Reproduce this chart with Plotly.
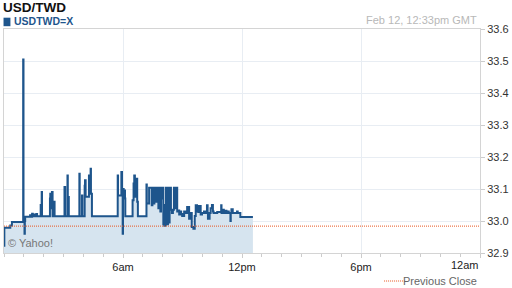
import plotly.graph_objects as go
import pandas as pd

DAY = "2016-02-12"
times = ["00:00", "00:01", "00:19", "00:24", "00:58", "00:59", "01:02", "01:03", "01:04", "01:19",
         "01:20", "01:25", "01:27", "01:31", "01:33", "01:38", "01:40", "01:51", "01:52", "01:54",
         "01:55", "02:19", "02:20", "02:22", "02:25", "02:27", "02:31", "02:33", "03:03", "03:05",
         "03:12", "03:13", "03:16", "03:48", "03:49", "03:56", "03:57", "04:04", "04:05", "04:07",
         "04:10", "04:17", "04:19", "04:22", "04:23", "04:26", "05:44", "05:45", "05:50", "05:55",
         "05:57", "05:59", "06:00", "06:02", "06:04", "06:06", "06:07", "06:29", "06:32", "06:34",
         "06:36", "06:39", "06:42", "06:43", "06:45", "07:11", "07:12", "07:19", "07:27", "07:29",
         "07:33", "07:35", "07:37", "07:41", "07:43", "07:47", "07:49", "07:53", "07:55", "07:58",
         "08:00", "08:02", "08:04", "08:05", "08:07", "08:08", "08:10", "08:12", "08:14", "08:16",
         "08:20", "08:21", "08:25", "08:28", "08:31", "08:34", "08:38", "08:39", "08:44", "08:47",
         "08:50", "08:53", "08:56", "08:59", "09:05", "09:08", "09:14", "09:20", "09:25", "09:28",
         "09:33", "09:37", "09:40", "09:44", "09:48", "09:50", "09:55", "09:59", "10:05", "10:09",
         "10:14", "10:16", "10:17", "10:22", "10:25", "10:29", "10:32", "10:34", "10:45", "10:57",
         "10:58", "11:02", "11:05", "11:10", "11:13", "11:17", "11:20", "11:25", "11:26", "11:28",
         "11:32", "11:35", "11:45", "11:47", "11:55", "12:33"]
values = [32.923, 32.979, 32.986, 32.997, 33.505, 32.997, 32.960, 33.000, 33.013, 33.018,
          33.013, 33.023, 33.015, 33.020, 33.015, 33.022, 33.015, 33.050, 33.015, 33.091,
          33.015, 33.070, 33.085, 33.040, 33.091, 33.015, 33.060, 33.015, 33.106, 33.015,
          33.142, 33.075, 33.015, 33.148, 33.015, 33.080, 33.015, 33.110, 33.127, 33.076,
          33.076, 33.142, 33.100, 33.163, 33.085, 33.015, 33.142, 33.080, 33.080, 33.153,
          33.100, 32.960, 33.100, 33.090, 33.095, 33.070, 33.015, 33.065, 33.117, 33.142,
          33.076, 33.076, 33.132, 33.060, 33.015, 33.114, 33.055, 33.104, 33.049, 33.104,
          33.055, 33.090, 33.104, 33.060, 33.104, 33.040, 33.104, 33.030, 33.104, 33.070,
          33.104, 32.990, 33.050, 32.985, 33.020, 32.988, 33.104, 33.050, 32.990, 33.104,
          32.995, 33.104, 33.035, 33.025, 33.035, 33.104, 33.040, 33.104, 33.030, 33.033,
          33.020, 33.030, 33.022, 33.016, 33.030, 33.025, 33.044, 33.007, 33.025, 32.981,
          32.976, 33.016, 33.049, 33.030, 33.028, 33.047, 33.020, 33.025, 33.030, 33.025,
          33.049, 33.025, 33.007, 33.025, 33.040, 33.050, 33.030, 33.025, 33.028, 33.049,
          33.025, 33.035, 33.025, 33.032, 33.025, 33.030, 33.025, 33.000, 33.025, 33.037,
          33.025, 33.025, 33.030, 33.025, 33.0125, 33.0125]
prev_close = 32.984
y_ticks = [32.9, 33.0, 33.1, 33.2, 33.3, 33.4, 33.5, 33.6]
x_tick_times = ["2016-02-12 06:00", "2016-02-12 12:00", "2016-02-12 18:00", "2016-02-13 00:00"]
x_tick_labels = ["6am", "12pm", "6pm", "12am"]
x_start, x_end = "2016-02-12 00:00", "2016-02-13 00:00"

FONT = "Arial, Liberation Sans, sans-serif"
LINE = "#1e558c"
FILL = "#d6e4ef"
ORANGE = "#e8561f"
GRID = "#e8edf3"

ts = pd.to_datetime([DAY + " " + t for t in times])

fig = go.Figure()
fig.add_trace(go.Scatter(x=ts, y=values, mode="lines", line=dict(color=LINE, width=2, shape="hv"),
                         fill="tozeroy", fillcolor=FILL, hoverinfo="skip", showlegend=False))
fig.add_trace(go.Scatter(x=[x_start, x_end], y=[prev_close, prev_close], mode="lines",
                         line=dict(color=ORANGE, width=1, dash="1px,1px"), showlegend=False))

# the last tick label sits inside the plot edge, so it is drawn as a right-anchored annotation
tick_text_on_axis = x_tick_labels[:-1] + [""]

fig.update_layout(
    width=512, height=288, margin=dict(l=3, r=28, t=29, b=35),
    paper_bgcolor="white", plot_bgcolor="white",
    font=dict(family=FONT, size=11, color="#333"),
    xaxis=dict(type="date", range=[x_start, x_end], tickvals=x_tick_times, ticktext=tick_text_on_axis,
               showgrid=True, gridcolor=GRID, gridwidth=1, showline=True, linecolor="#d4d4d4",
               mirror=True, ticks="outside", ticklen=4, tickcolor="#cccccc",
               minor=dict(dtick=3600000, ticks="outside", ticklen=3, tickcolor="#cccccc", showgrid=False),
               tickfont=dict(size=11, color="#222"), zeroline=False),
    yaxis=dict(range=[32.9, 33.6], tickvals=y_ticks, tickformat=".1f", side="right",
               showgrid=True, gridcolor=GRID, gridwidth=1, showline=True, linecolor="#d4d4d4",
               mirror=True, ticks="outside", ticklen=4, tickcolor="#cccccc",
               tickfont=dict(size=11, color="#333"), zeroline=False),
)

fig.add_annotation(text=x_tick_labels[-1], xref="paper", yref="paper", x=1, y=0, xshift=1, yshift=-12,
                   xanchor="right", yanchor="middle", showarrow=False,
                   font=dict(family=FONT, size=11, color="#222"))
fig.add_annotation(text="<b>USD/TWD</b>", xref="paper", yref="paper", x=0, y=1, xshift=-3, yshift=22,
                   xanchor="left", yanchor="middle", showarrow=False,
                   font=dict(family=FONT, size=13.5, color="#111"))
fig.add_shape(type="rect", xref="paper", yref="paper", x0=-0.001, x1=0.0135, y0=1.0125, y1=1.0505,
              fillcolor=LINE, line=dict(width=0))
fig.add_annotation(text="<b>USDTWD=X</b>", xref="paper", yref="paper", x=0, y=1, xshift=8, yshift=8.5,
                   xanchor="left", yanchor="middle", showarrow=False,
                   font=dict(family=FONT, size=10.5, color=LINE))
fig.add_annotation(text="Feb 12, 12:33pm GMT", xref="paper", yref="paper", x=1, y=1, xshift=-1, yshift=9,
                   xanchor="right", yanchor="middle", showarrow=False,
                   font=dict(family=FONT, size=11, color="#b8b8b8"))
fig.add_annotation(text="© Yahoo!", xref="paper", yref="paper", x=0, y=0, xshift=2, yshift=10,
                   xanchor="left", yanchor="middle", showarrow=False,
                   font=dict(family=FONT, size=11, color="#777"))
fig.add_annotation(text="Previous Close", xref="paper", yref="paper", x=1, y=0, xshift=-1, yshift=-28,
                   xanchor="right", yanchor="middle", showarrow=False,
                   font=dict(family=FONT, size=11, color="#666"))
fig.add_shape(type="line", xref="paper", yref="paper", x0=0.7985, x1=0.842, y0=-0.125, y1=-0.125,
              line=dict(color=ORANGE, width=1, dash="1px,1px"))

fig.write_html("out.html")
